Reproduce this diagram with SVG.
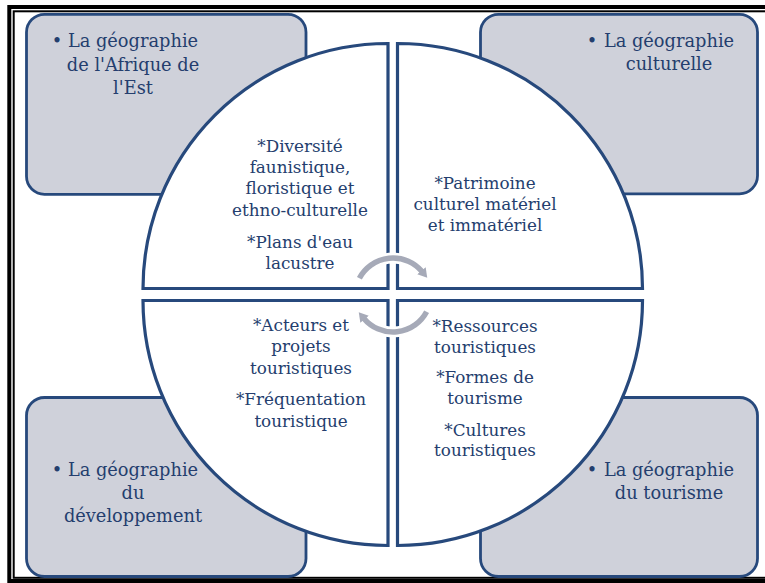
<svg xmlns="http://www.w3.org/2000/svg" width="765" height="583" viewBox="0 0 765 583">
<style>
.box{fill:#CFD1DA;stroke:#27497C;stroke-width:2.8}
.quad{fill:#FFFFFF;stroke:#27497C;stroke-width:3.2;stroke-linejoin:miter}
.t{font-family:"DejaVu Serif","Liberation Serif",serif;fill:#243E6E;text-anchor:middle}
.o{font-size:17.8px}
.i{font-size:16.8px}
.halo{fill:none;stroke:#FFFFFF;stroke-width:11}
.arc{fill:none;stroke:#A6AAB8;stroke-width:5.5}
</style>
<defs>
<marker id="ah" markerUnits="userSpaceOnUse" markerWidth="14" markerHeight="14" refX="1" refY="6" orient="auto">
<path d="M0,0.5 L9,6 L0,11.5 Z" fill="#A6AAB8"/>
</marker>
</defs>
<rect width="765" height="583" fill="#FFFFFF"/>
<g id="frame" fill="none" stroke="#000000">
<rect x="9.3" y="7" width="770" height="574" stroke-width="4"/>
<rect x="13.7" y="11.3" width="770" height="566.5" stroke-width="2"/>
</g>
<g id="box-tl"><rect class="box" x="26.5" y="14.3" width="279.5" height="180" rx="18"/>
<text class="t o" x="57" y="47">•</text>
<text class="t o" x="133" y="47">La géographie</text>
<text class="t o" x="133" y="71">de l'Afrique de</text>
<text class="t o" x="133" y="94">l'Est</text></g>
<g id="box-tr"><rect class="box" x="480.5" y="14.3" width="277" height="179.5" rx="18"/>
<text class="t o" x="592" y="47">•</text>
<text class="t o" x="669" y="47">La géographie</text>
<text class="t o" x="669" y="70">culturelle</text></g>
<g id="box-bl"><rect class="box" x="26.5" y="397.5" width="279.5" height="179" rx="18"/>
<text class="t o" x="57" y="476">•</text>
<text class="t o" x="133" y="476">La géographie</text>
<text class="t o" x="133" y="499">du</text>
<text class="t o" x="133" y="522">développement</text></g>
<g id="box-br"><rect class="box" x="480.5" y="397.5" width="277" height="179" rx="18"/>
<text class="t o" x="592" y="476">•</text>
<text class="t o" x="669" y="476">La géographie</text>
<text class="t o" x="669" y="499">du tourisme</text></g>
<g id="quad-tl"><path class="quad" d="M388,288.5 L143,288.5 A245,245 0 0 1 388,43.5 Z"/>
<text class="t i" x="300" y="152">*Diversité</text>
<text class="t i" x="300" y="173">faunistique,</text>
<text class="t i" x="300" y="194">floristique et</text>
<text class="t i" x="300" y="216">ethno-culturelle</text>
<text class="t i" x="300" y="248">*Plans d'eau</text>
<text class="t i" x="300" y="269">lacustre</text></g>
<g id="quad-tr"><path class="quad" d="M397.5,288.5 L397.5,43.5 A245,245 0 0 1 642.5,288.5 Z"/>
<text class="t i" x="485" y="189">*Patrimoine</text>
<text class="t i" x="485" y="210">culturel matériel</text>
<text class="t i" x="485" y="231">et immatériel</text></g>
<g id="quad-bl"><path class="quad" d="M388,300.5 L388,545.5 A245,245 0 0 1 143,300.5 Z"/>
<text class="t i" x="301" y="331">*Acteurs et</text>
<text class="t i" x="301" y="352">projets</text>
<text class="t i" x="301" y="374">touristiques</text>
<text class="t i" x="301" y="405">*Fréquentation</text>
<text class="t i" x="301" y="427">touristique</text></g>
<g id="quad-br"><path class="quad" d="M397.5,300.5 L642.5,300.5 A245,245 0 0 1 397.5,545.5 Z"/>
<text class="t i" x="485" y="332">*Ressources</text>
<text class="t i" x="485" y="353">touristiques</text>
<text class="t i" x="485" y="383">*Formes de</text>
<text class="t i" x="485" y="404">tourisme</text>
<text class="t i" x="485" y="436">*Cultures</text>
<text class="t i" x="485" y="456">touristiques</text></g>
<g id="connectors">
<path class="halo" d="M359.4,278.2 A38,38 0 0 1 427.2,279.4"/>
<path class="halo" d="M426.6,311.8 A38,38 0 0 1 359.4,311.8"/>
<path class="arc" d="M359.4,278.2 A38,38 0 0 1 422.1,271.6" marker-end="url(#ah)"/>
<path class="arc" d="M426.6,311.8 A38,38 0 0 1 363.9,318.4" marker-end="url(#ah)"/>
</g>
</svg>
